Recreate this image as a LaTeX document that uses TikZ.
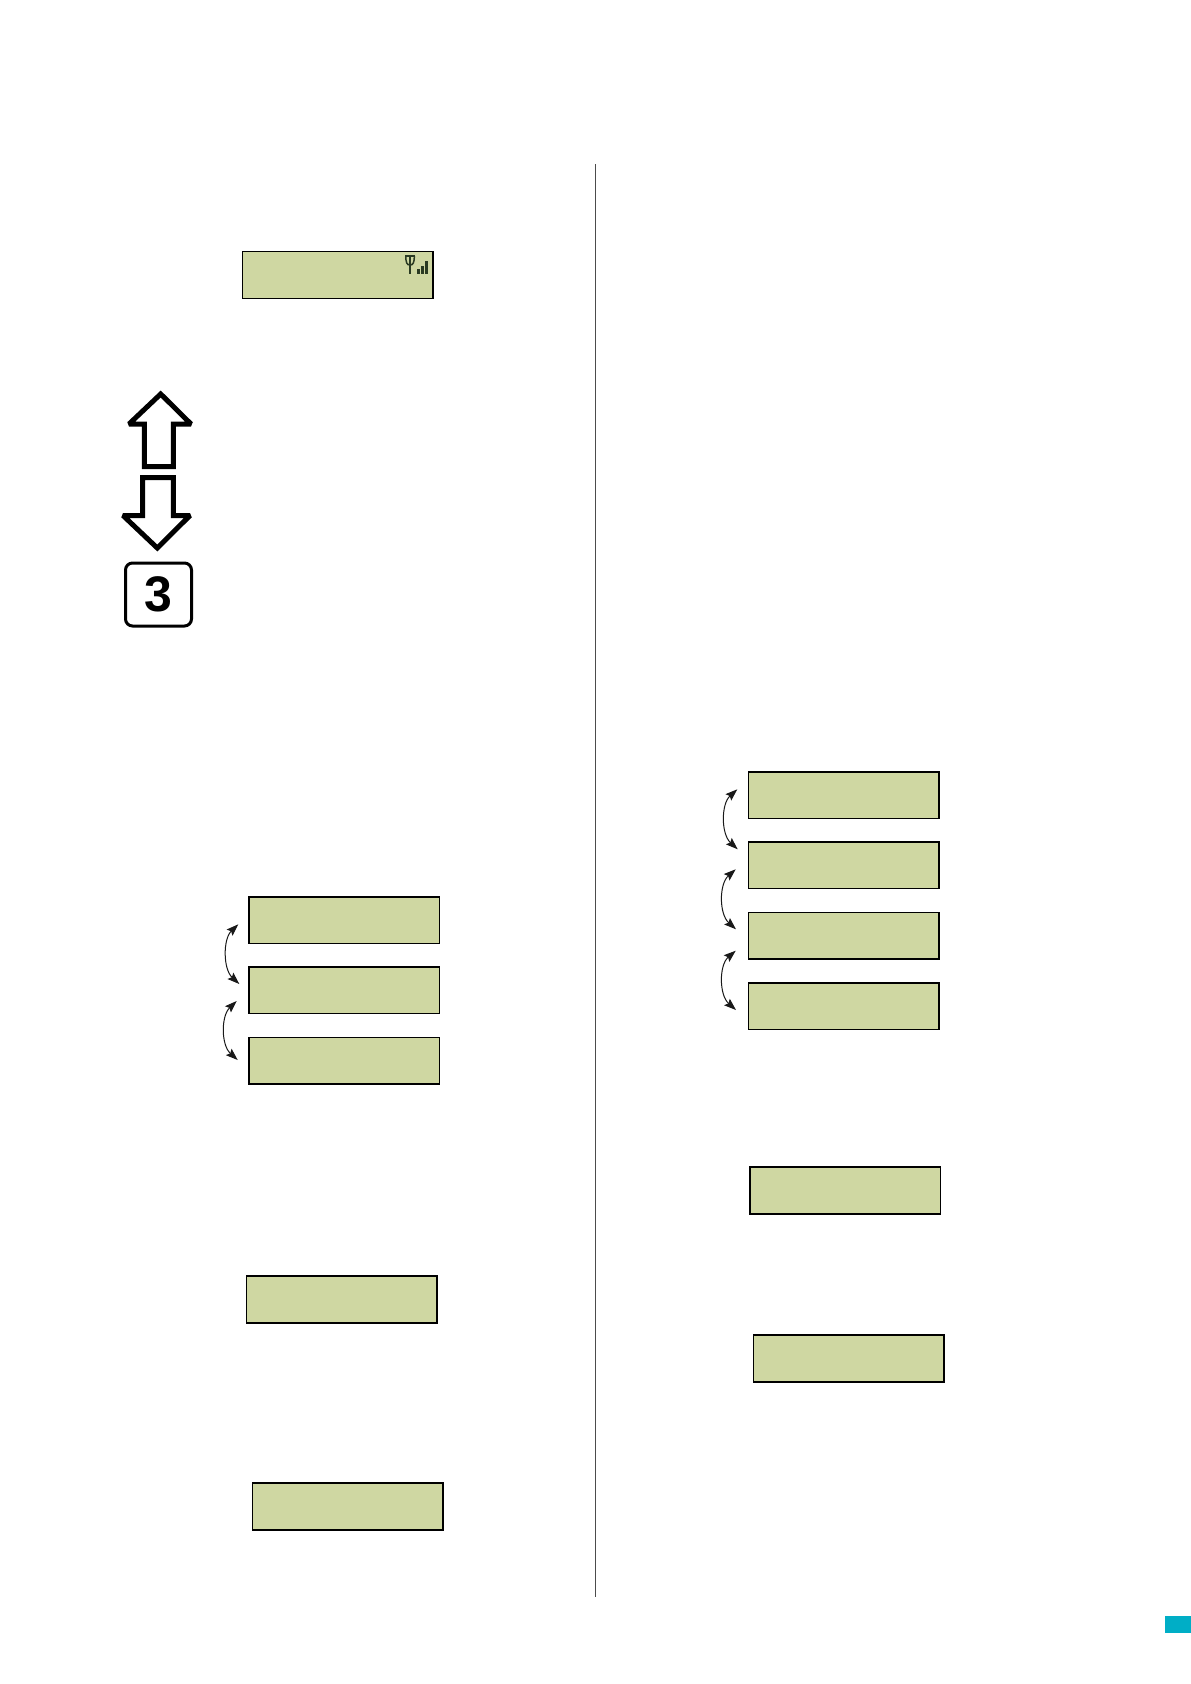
\documentclass[tikz,border=0pt]{standalone}
\usepackage{fontspec}
\setmainfont{Liberation Sans}
\usetikzlibrary{arrows.meta}
\definecolor{lcd}{HTML}{CFD7A2}
\definecolor{teal}{HTML}{00AEC6}
\definecolor{sig}{HTML}{2A3A22}
\tikzset{
  lcdbox/.style={draw=black,fill=lcd,line width=1.5pt,minimum width=190.6pt,minimum height=46.8pt,inner sep=0pt,anchor=north west},
  swing/.style={draw=black!90,line width=1pt,{Stealth[length=12pt,width=8.5pt,inset=2pt]}-{Stealth[length=12pt,width=8.5pt,inset=2pt]}},
  keyarrow/.style={draw=black,line width=5pt,line join=miter,miter limit=2,fill=white},
}
\begin{document}
\begin{tikzpicture}[x=1pt,y=-1pt]
\useasboundingbox (0,0) rectangle (1191,1684);
\fill[white] (0,0) rectangle (1191,1684);
% column rule
\coordinate (ruleT) at (595,164);
\coordinate (ruleB) at (595,1597);
\draw[black!70,line width=0.8pt] (ruleT) -- (ruleB);
% page tab
\fill[teal] (1165,1616) rectangle (1191,1633);
% LCD boxes
\node[lcdbox] (top) at (241.8,250.8) {};
\node[lcdbox] (la) at (248,896) {};
\node[lcdbox] (lb) at (248,966) {};
\node[lcdbox] (lc) at (248,1036.6) {};
\node[lcdbox] (ld) at (245.6,1275.3) {};
\node[lcdbox] (le) at (251.8,1482.3) {};
\node[lcdbox] (ra) at (747.7,771) {};
\node[lcdbox] (rb) at (747.7,841) {};
\node[lcdbox] (rc) at (747.7,911.6) {};
\node[lcdbox] (rd) at (747.7,982) {};
\node[lcdbox] (re) at (749,1166.4) {};
\node[lcdbox] (rf) at (752.6,1334.4) {};
% signal icon
\draw[sig,line width=1.7pt] (405,256) -- (415,256);
\draw[sig,line width=1.5pt] (405.8,256) .. controls (405.8,263) and (407,265) .. (410,265) .. controls (413,265) and (414.3,263) .. (414.3,256);
\draw[sig,line width=2pt] (410,256) -- (410,273.5);
\fill[sig] (417,269) rectangle (420.3,273.5);
\fill[sig] (421,266) rectangle (424,273.5);
\fill[sig] (424.8,261) rectangle (428,273.5);
% key glyphs
\draw[keyarrow] (160.7,394) -- (191,424) -- (173.3,424) -- (173.3,466.5) -- (144.3,466.5) -- (144.3,424) -- (129,424) -- cycle;
\draw[keyarrow] (142.7,477.5) -- (173.3,477.5) -- (173.3,515.5) -- (190,515.5) -- (157.3,548) -- (123,515.5) -- (142.7,515.5) -- cycle;
\node[draw=black,line width=3pt,rounded corners=7pt,minimum width=66pt,minimum height=63pt,inner sep=0pt,font=\fontsize{50}{50}\selectfont\bfseries] (key3) at (158.5,594.5) {3};
% swing arrows
\coordinate (l1s) at (238.3,924.3); \coordinate (l1e) at (239.3,984);
\coordinate (l2s) at (236.7,1001); \coordinate (l2e) at (237.7,1060);
\coordinate (r1s) at (737.3,789.3); \coordinate (r1e) at (737.7,849.3);
\coordinate (r2s) at (735.7,869.3); \coordinate (r2e) at (736,929.3);
\coordinate (r3s) at (735.7,950.7); \coordinate (r3e) at (736,1010);
\draw[swing] (l1s) .. controls (223,939) and (223,969) .. (l1e);
\draw[swing] (l2s) .. controls (221,1016) and (221,1045) .. (l2e);
\draw[swing] (r1s) .. controls (721,804) and (721,834) .. (r1e);
\draw[swing] (r2s) .. controls (719,884) and (719,914) .. (r2e);
\draw[swing] (r3s) .. controls (719,965) and (719,995) .. (r3e);
\end{tikzpicture}
\end{document}
